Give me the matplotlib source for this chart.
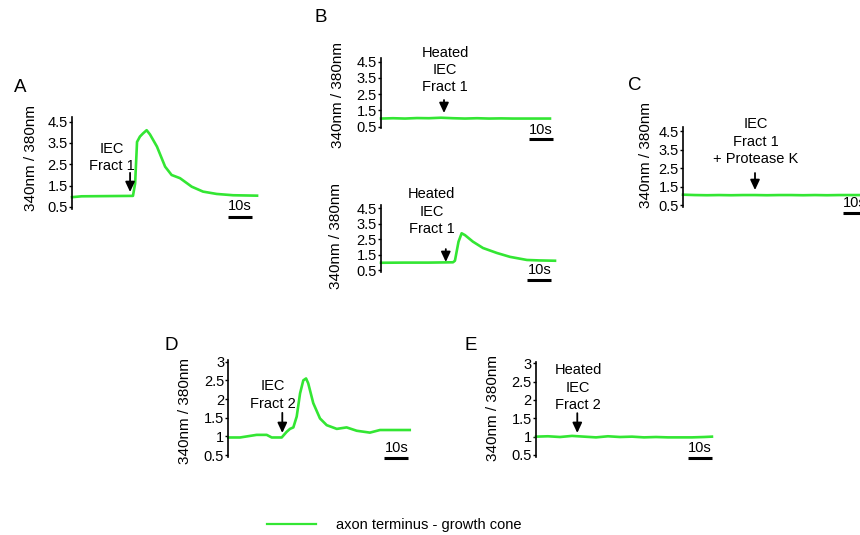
import matplotlib
matplotlib.use('Agg')
import matplotlib.pyplot as plt
from matplotlib.lines import Line2D
from matplotlib.ticker import FuncFormatter

plt.rcParams['font.family'] = ['Liberation Sans', 'DejaVu Sans']

# ---------------- data (time in s, ratio 340nm/380nm) ----------------
A_t = [0, 4, 25.4, 26.3, 27.1, 28.3, 29.6, 31.1, 32.5, 35.4, 38.8, 41.5, 45, 49.9, 54.6, 60.3, 67.1, 77.1]
A_v = [0.96, 1.0, 1.02, 1.6, 3.55, 3.8, 3.95, 4.1, 3.9, 3.33, 2.39, 2.0, 1.85, 1.45, 1.22, 1.11, 1.05, 1.03]

B1_t = [0, 5, 10, 15, 20, 25, 30, 35, 40, 45, 50, 55, 60, 65, 70.4]
B1_v = [1.0, 1.02, 1.0, 1.03, 1.02, 1.05, 1.02, 1.0, 1.02, 1.0, 1.01, 1.0, 1.0, 1.0, 1.0]

B2_t = [0, 10, 20, 30, 30.8, 32.3, 33.6, 35, 38.3, 42.5, 48.3, 53.75, 60.8, 66, 72.5]
B2_v = [0.97, 0.98, 0.98, 1.0, 1.1, 2.33, 2.87, 2.75, 2.33, 1.92, 1.6, 1.35, 1.15, 1.12, 1.1]

C_t = [0, 5, 10, 15, 20, 25, 30, 35, 40, 45, 50, 55, 60, 65, 70, 74]
C_v = [1.06, 1.04, 1.03, 1.04, 1.03, 1.04, 1.04, 1.03, 1.04, 1.04, 1.03, 1.04, 1.03, 1.04, 1.04, 1.04]

D_t = [0, 4.9, 11.8, 16, 18.1, 22.25, 24.3, 25.7, 27.1, 28.5, 29.9, 31.25, 32.4, 33.3, 35.4, 38.2,
       41, 45.2, 49.3, 53.5, 59, 63.2, 75.6]
D_v = [0.97, 0.97, 1.04, 1.04, 0.97, 0.97, 1.12, 1.2, 1.24, 1.53, 2.15, 2.5, 2.55, 2.42, 1.89, 1.48,
       1.3, 1.2, 1.24, 1.15, 1.1, 1.17, 1.17]

E_t = [0, 5, 10, 15, 20, 25, 30, 35, 40, 45, 50, 55, 60, 65, 70, 73.3]
E_v = [1.0, 1.01, 0.99, 1.02, 1.0, 0.98, 1.01, 0.99, 1.0, 0.98, 0.99, 0.98, 0.98, 0.98, 0.99, 1.0]

ticks_45 = [0.5, 1.5, 2.5, 3.5, 4.5]
ticks_3 = [0.5, 1, 1.5, 2, 2.5, 3]
ylabel = "340nm / 380nm"
legend_label = "axon terminus - growth cone"

# ---------------- layout ----------------
W, H = 860, 535
PXS = 2.4          # pixels per second
GREEN = '#33e633'
FS = 10.5

fig = plt.figure(figsize=(W / 100, H / 100), dpi=100)

panels = [
    dict(letter='A', lpos=(20, 87), t=A_t, v=A_v, left=72, top=117.4, bottom=209.1, xmax=77.5,
         ylim=(0.4, 4.7), ticks=ticks_45, ylab=(31, 158),
         text="IEC\nFract 1", tpos=(16.5, 2.82), arrow=(24.2, 2.1, 1.2), sb=(65, 0.03, 0.55)),
    dict(letter='B', lpos=(321, 18), t=B1_t, v=B1_v, left=381, top=58.4, bottom=128.3, xmax=70.4,
         ylim=(0.4, 4.7), ticks=ticks_45, ylab=(338, 95),
         text="Heated\nIEC\nFract 1", tpos=(26.7, 3.99), arrow=(26.25, 2.14, 1.34), sb=(61.7, -0.26, 0.3)),
    dict(letter=None, lpos=None, t=B2_t, v=B2_v, left=381, top=204.9, bottom=271.6, xmax=72.5,
         ylim=(0.4, 4.7), ticks=ticks_45, ylab=(336, 236),
         text="Heated\nIEC\nFract 1", tpos=(21, 4.26), arrow=(27, 1.85, 1.02), sb=(61, -0.15, 0.5)),
    dict(letter='C', lpos=(635, 85), t=C_t, v=C_v, left=683, top=127.3, bottom=206.9, xmax=74,
         ylim=(0.4, 4.7), ticks=ticks_45, ylab=(646, 155),
         text="IEC\nFract 1\n+ Protease K", tpos=(30.4, 3.92), arrow=(30, 2.23, 1.31), sb=(66.7, 0.07, 0.61)),
    dict(letter='D', lpos=(171, 346), t=D_t, v=D_v, left=228.3, top=359.8, bottom=456.9, xmax=76,
         ylim=(0.45, 3.05), ticks=ticks_3, ylab=(185, 411),
         text="IEC\nFract 2", tpos=(18.4, 2.11), arrow=(22.5, 1.63, 1.09), sb=(65, 0.43, 0.69)),
    dict(letter='E', lpos=(471, 346), t=E_t, v=E_v, left=536, top=361.5, bottom=456.8, xmax=73.3,
         ylim=(0.45, 3.05), ticks=ticks_3, ylab=(493, 408),
         text="Heated\nIEC\nFract 2", tpos=(17.6, 2.34), arrow=(17.2, 1.64, 1.1), sb=(63.3, 0.43, 0.69)),
]

fmt = FuncFormatter(lambda x, p: f"{x:g}")
for p in panels:
    wpx = p['xmax'] * PXS
    ax = fig.add_axes([p['left'] / W, 1 - p['bottom'] / H, wpx / W, (p['bottom'] - p['top']) / H])
    ax.patch.set_visible(False)
    for s in ('top', 'right', 'bottom'):
        ax.spines[s].set_visible(False)
    ax.spines['left'].set_linewidth(1.2)
    ax.set_xlim(0, p['xmax'])
    ax.set_ylim(*p['ylim'])
    ax.set_xticks([])
    ax.set_yticks(p['ticks'])
    ax.yaxis.set_major_formatter(fmt)
    ax.tick_params(axis='y', length=2, width=1, pad=1, labelsize=FS)
    ax.plot(p['t'], p['v'], color=GREEN, lw=1.9, clip_on=False, solid_joinstyle='round')
    ax.text(p['tpos'][0], p['tpos'][1], p['text'], ha='center', va='center',
            fontsize=FS, linespacing=1.3, clip_on=False)
    at, tail, tip = p['arrow']
    ax.annotate('', xy=(at, tip), xytext=(at, tail),
                arrowprops=dict(arrowstyle='-|>,head_width=0.28,head_length=0.6',
                                color='black', lw=1.3, shrinkA=0, shrinkB=0))
    t0, yb, yt = p['sb']
    ax.plot([t0, t0 + 10], [yb, yb], color='black', lw=2.2, clip_on=False, solid_capstyle='butt')
    ax.text(t0 + 5, yt, "10s", ha='center', va='center', fontsize=FS, clip_on=False)
    fig.text(p['ylab'][0] / W, 1 - p['ylab'][1] / H, ylabel, rotation=90,
             ha='center', va='center', fontsize=11)
    if p['letter']:
        fig.text(p['lpos'][0] / W, 1 - p['lpos'][1] / H, p['letter'], ha='center', va='center',
                 fontsize=13.5)

leg_handle = Line2D([], [], color=GREEN, lw=1.6)
fig.legend(handles=[leg_handle], labels=[legend_label], loc='center left',
           bbox_to_anchor=(266.7 / W, 1 - 525 / H), frameon=False, fontsize=FS,
           borderpad=0, borderaxespad=0, handlelength=3.4, handletextpad=1.35)

fig.savefig('out.png', dpi=100)
